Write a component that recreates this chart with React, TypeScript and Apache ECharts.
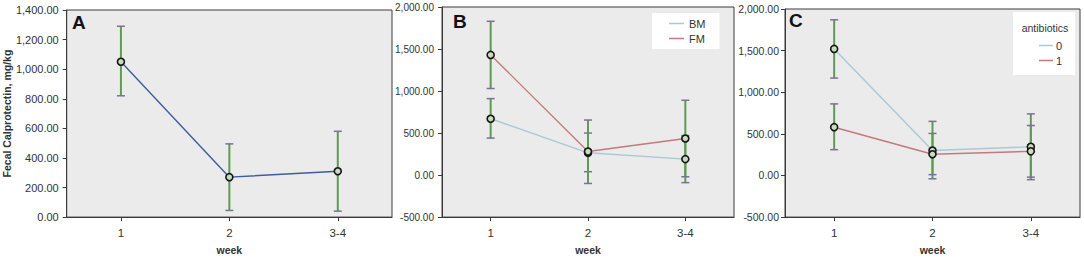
import React, { useEffect, useRef } from "react";
import * as echarts from "echarts";

const weeks = ["1", "2", "3-4"];

const meanA = [1050, 270, 310];
const lowA = [820, 45, 40];
const highA = [1290, 495, 580];

const meanBM = [670, 265, 190];
const lowBM = [440, 40, -90];
const highBM = [910, 500, 470];
const meanFM = [1430, 280, 435];
const lowFM = [1030, -100, -20];
const highFM = [1830, 655, 890];

const meanAb0 = [1520, 300, 345];
const lowAb0 = [1170, -40, -50];
const highAb0 = [1870, 650, 740];
const meanAb1 = [580, 255, 290];
const lowAb1 = [310, 10, -20];
const highAb1 = [860, 505, 600];

const yTicksA = { min: 0, max: 1400, interval: 200 };
const yTicksBC = { min: -500, max: 2000, interval: 500 };

const FONT = "'Liberation Sans', Arial, sans-serif";
const BLUE_DARK = "#3f5d9c";
const BLUE_LIGHT = "#a9c9d6";
const RED = "#c27a7e";
const GREEN = "#5f9b55";
const CAP = "#7d6f98";

const fmt = (v: number) =>
  v.toLocaleString("en-US", { minimumFractionDigits: 2, maximumFractionDigits: 2 });

function errorSeries(idx: number, low: number[], high: number[], name: string) {
  return {
    type: "custom",
    name,
    xAxisIndex: idx,
    yAxisIndex: idx,
    z: 1,
    silent: true,
    data: weeks.map((_, i) => [i, low[i], high[i]]),
    renderItem: (params: any, api: any) => {
      const lo = api.coord([api.value(0), api.value(1)]);
      const hi = api.coord([api.value(0), api.value(2)]);
      const cw = 4;
      return {
        type: "group",
        children: [
          {
            type: "line",
            shape: { x1: lo[0], y1: lo[1], x2: hi[0], y2: hi[1] },
            style: { stroke: GREEN, lineWidth: 2 },
          },
          {
            type: "line",
            shape: { x1: lo[0] - cw, y1: lo[1], x2: lo[0] + cw, y2: lo[1] },
            style: { stroke: CAP, lineWidth: 1.5 },
          },
          {
            type: "line",
            shape: { x1: hi[0] - cw, y1: hi[1], x2: hi[0] + cw, y2: hi[1] },
            style: { stroke: CAP, lineWidth: 1.5 },
          },
        ],
      };
    },
  };
}

function lineSeries(idx: number, name: string, data: number[], color: string) {
  return {
    type: "line",
    name,
    xAxisIndex: idx,
    yAxisIndex: idx,
    z: 3,
    data,
    symbol: "circle",
    symbolSize: 7,
    lineStyle: { color, width: 1.4 },
    itemStyle: { color: "#c9dcbf", borderColor: "#151515", borderWidth: 1.6 },
  };
}

export default function App() {
  const ref = useRef<HTMLDivElement>(null);

  useEffect(() => {
    if (!ref.current) return;
    const chart = echarts.init(ref.current, undefined, { renderer: "svg" });

    const grids = [
      { left: 62, top: 10, width: 330, height: 210 },
      { left: 442, top: 7, width: 292, height: 215 },
      { left: 785, top: 9, width: 295, height: 214 },
    ];

    const yLabelSize = [11, 10, 10.5];
    const yLabelMargin = [8, 8, 6];

    const option: any = {
      animation: false,
      backgroundColor: "#ffffff",
      textStyle: { fontFamily: FONT },
      grid: grids.map((g) => ({
        ...g,
        show: true,
        backgroundColor: "#ebebeb",
        borderColor: "#3a3a3a",
        borderWidth: 1,
      })),
      xAxis: grids.map((_, i) => ({
        type: "category",
        gridIndex: i,
        data: weeks,
        boundaryGap: true,
        name: "week",
        nameLocation: "middle",
        nameGap: 25,
        nameTextStyle: { fontWeight: "bold", fontSize: 10.5, color: "#333", fontFamily: FONT },
        axisLine: { show: true, onZero: false, lineStyle: { color: "#3a3a3a", width: 1 } },
        axisTick: { show: true, alignWithLabel: true, length: 4, lineStyle: { color: "#3a3a3a" } },
        axisLabel: { fontSize: 11.5, color: "#333", margin: 10, fontFamily: FONT },
        splitLine: { show: false },
      })),
      yAxis: grids.map((_, i) => {
        const t = i === 0 ? yTicksA : yTicksBC;
        return {
          type: "value",
          gridIndex: i,
          min: t.min,
          max: t.max,
          interval: t.interval,
          name: i === 0 ? "Fecal Calprotectin, mg/kg" : "",
          nameLocation: "middle",
          nameGap: 50,
          nameTextStyle: { fontWeight: "bold", fontSize: 10.5, color: "#333", fontFamily: FONT },
          axisLine: { show: true, onZero: false, lineStyle: { color: "#3a3a3a", width: 1 } },
          axisTick: { show: true, length: 4, lineStyle: { color: "#3a3a3a" } },
          axisLabel: {
            fontSize: yLabelSize[i],
            color: "#333",
            margin: yLabelMargin[i],
            formatter: fmt,
            fontFamily: FONT,
          },
          splitLine: { show: false },
        };
      }),
      legend: [
        {
          orient: "vertical",
          left: 652,
          top: 13,
          backgroundColor: "#ffffff",
          padding: [5, 14, 5, 17],
          itemGap: 4,
          itemWidth: 15,
          itemHeight: 1.5,
          icon: "rect",
          textStyle: { fontSize: 11, color: "#333", fontFamily: FONT },
          data: [
            { name: "BM", itemStyle: { color: BLUE_LIGHT, borderWidth: 0 } },
            { name: "FM", itemStyle: { color: RED, borderWidth: 0 } },
          ],
        },
        {
          orient: "vertical",
          left: 1039,
          top: 40,
          padding: 0,
          itemGap: 4,
          itemWidth: 14,
          itemHeight: 1.5,
          icon: "rect",
          textStyle: { fontSize: 11, color: "#333", fontFamily: FONT, padding: [0, 0, 0, -2] },
          data: [
            { name: "0", itemStyle: { color: BLUE_LIGHT, borderWidth: 0 } },
            { name: "1", itemStyle: { color: RED, borderWidth: 0 } },
          ],
        },
      ],
      graphic: [
        {
          type: "rect",
          z: 3,
          shape: { x: 1013, y: 12, width: 62, height: 63 },
          style: { fill: "#ffffff" },
        },
        {
          type: "text",
          z: 4,
          x: 1045,
          y: 28,
          style: {
            text: "antibiotics",
            fill: "#333",
            font: "10.5px " + FONT,
            align: "center",
            verticalAlign: "middle",
          },
        },
        {
          type: "text",
          z: 5,
          x: 72,
          y: 13,
          style: { text: "A", font: "bold 19px " + FONT, fill: "#111" },
        },
        {
          type: "text",
          z: 5,
          x: 453,
          y: 12,
          style: { text: "B", font: "bold 19px " + FONT, fill: "#111" },
        },
        {
          type: "text",
          z: 5,
          x: 789,
          y: 11,
          style: { text: "C", font: "bold 19px " + FONT, fill: "#111" },
        },
      ],
      series: [
        errorSeries(0, lowA, highA, "errA"),
        lineSeries(0, "mean", meanA, BLUE_DARK),
        errorSeries(1, lowBM, highBM, "errBM"),
        errorSeries(1, lowFM, highFM, "errFM"),
        lineSeries(1, "BM", meanBM, BLUE_LIGHT),
        lineSeries(1, "FM", meanFM, RED),
        errorSeries(2, lowAb0, highAb0, "err0"),
        errorSeries(2, lowAb1, highAb1, "err1"),
        lineSeries(2, "0", meanAb0, BLUE_LIGHT),
        lineSeries(2, "1", meanAb1, RED),
      ],
    };

    chart.setOption(option);
    return () => chart.dispose();
  }, []);

  return (
    <div
      ref={ref}
      style={{ position: "fixed", left: 0, top: 0, width: 1084, height: 260 }}
    />
  );
}
